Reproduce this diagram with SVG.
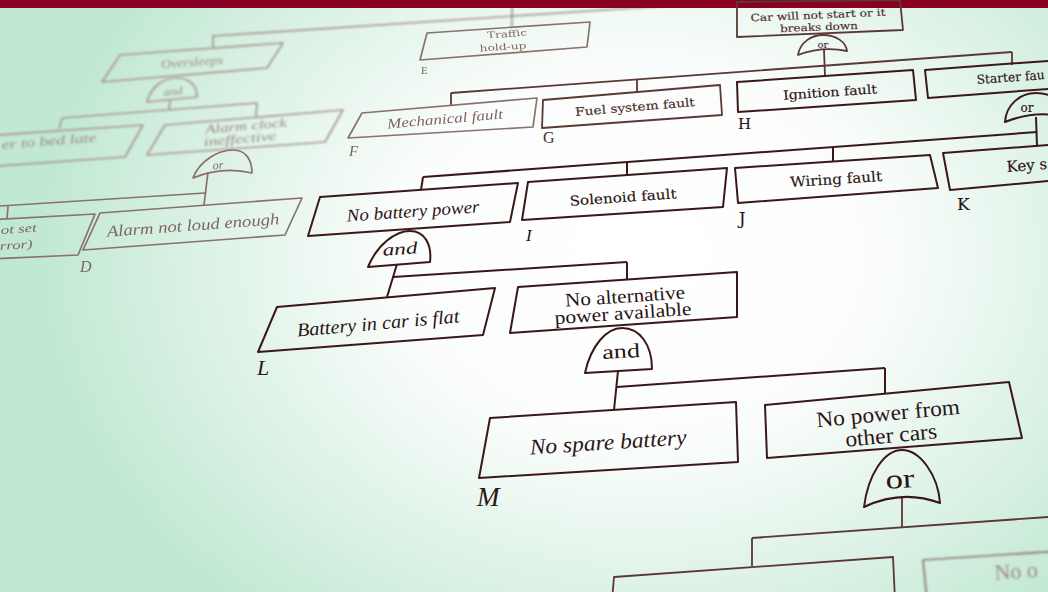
<svg xmlns="http://www.w3.org/2000/svg" width="1048" height="592" viewBox="0 0 1048 592">
<defs>
<radialGradient id="bg" gradientUnits="userSpaceOnUse" cx="640" cy="255" r="600" gradientTransform="translate(640 255) scale(1 0.78) translate(-640 -255)">
<stop offset="0" stop-color="#ffffff"/>
<stop offset="0.4" stop-color="#fbfdfc"/>
<stop offset="0.7" stop-color="#dff3e8"/>
<stop offset="1" stop-color="#c1e8d2"/>
</radialGradient>
<filter id="b1" x="-10%" y="-10%" width="120%" height="120%"><feGaussianBlur stdDeviation="0.6"/></filter>
<filter id="b2" x="-10%" y="-10%" width="120%" height="120%"><feGaussianBlur stdDeviation="1.1"/></filter>
</defs>
<style>
.bx{fill:none;stroke-linejoin:round}
.k{stroke:#3a1818;stroke-width:2}
.k2{stroke:#5c3833;stroke-width:1.8}
.k3{stroke:#8a716b;stroke-width:1.7}
.k4{stroke:#a8958f;stroke-width:1.7}
.ln{fill:none}
.tr{font-family:"Liberation Serif","Times New Roman",serif}
.ti{font-family:"Liberation Serif","Times New Roman",serif;font-style:italic}
.tb{font-family:"DejaVu Serif","Liberation Serif",serif;stroke-width:0.15}
.c{text-anchor:middle;dominant-baseline:central}
.d{fill:#2b1414;stroke:#2b1414}
.d2{fill:#4b2c28;stroke:#4b2c28}
.d3{fill:#7d6660}
.d4{fill:#9c8a83}
.tr.d,.ti.d,.tr.d2,.ti.d2{stroke:none}
</style>
<rect x="0" y="0" width="1048" height="592" fill="url(#bg)"/>

<g id="connectors">
<g filter="url(#b2)" class="ln k4">
<path d="M213,48 L213,36 L665,6"/>
<path d="M512,0 L512,27"/>
<path d="M170,100 L169,110"/>
<path d="M62,118 L257,103"/>
<path d="M62,118 L59,129"/>
<path d="M257,103 L256,117"/>
</g>
<g filter="url(#b1)" class="ln k3">
<path d="M0,206 L205,193"/>
<path d="M208,172 L204,205"/>
<path d="M8,206 L7,219"/>
</g>
<g class="ln k2">
<path d="M451,93 L1012,52"/>
<path d="M451,93 L451,106"/>
<path d="M637,79 L637,92"/>
<path d="M824,50 L825,76"/>
<path d="M1012,52 L1012,65"/>
</g>
<g class="ln k">
<path d="M423,177 L1037,132"/>
<path d="M423,177 L421,190"/>
<path d="M627,162 L627,175"/>
<path d="M833,147 L833,161"/>
<path d="M1036,117 L1037,146"/>
<path d="M397,264 L387,297"/>
<path d="M393,277 L627,262"/>
<path d="M627,262 L627,280"/>
<path d="M618,371 L614,410"/>
<path d="M617,387 L885,368"/>
<path d="M885,368 L885,394"/>
</g>
<g class="ln k2" filter="url(#b1)">
<path d="M902,498 L902,528"/>
<path d="M752,538 L1048,517"/>
<path d="M752,538 L752,566"/>
</g>
</g>

<g id="top-band"><rect x="0" y="0" width="1048" height="8" fill="#8a0022"/></g>

<g id="oversleeps" filter="url(#b2)">
<polygon class="bx k4" points="120,55 283,43 267,68 102,82"/>
<text class="ti c d4" x="192" y="62" font-size="12" textLength="62" lengthAdjust="spacingAndGlyphs" transform="rotate(-4.2 192 62)">Oversleeps</text>
</g>
<g id="gate-and-1" filter="url(#b2)">
<path class="bx k4" d="M147,102 C151,86 164,78 177,78 C190,78 197,86 197,97 Z"/>
<text class="ti c d4" x="173" y="91" font-size="11" textLength="19" lengthAdjust="spacingAndGlyphs" transform="rotate(-5 173 91)">and</text>
</g>
<g id="bed-late" filter="url(#b2)">
<polygon class="bx k4" points="-30,137 143,125 125,157 -30,168"/>
<text class="ti d4" x="2" y="149" font-size="13" textLength="95" lengthAdjust="spacingAndGlyphs" transform="rotate(-4.5 2 149)">er to bed late</text>
</g>
<g id="alarm-clock" filter="url(#b2)">
<polygon class="bx k4" points="165,125 343,110 325,142 147,155"/>
<text class="ti c d4" x="246" y="126" font-size="12.5" textLength="82" lengthAdjust="spacingAndGlyphs" transform="rotate(-4.8 246 126)">Alarm clock</text>
<text class="ti c d4" x="240" y="139" font-size="12.5" textLength="73" lengthAdjust="spacingAndGlyphs" transform="rotate(-4.8 240 139)">ineffective</text>
</g>
<g id="gate-or-1" filter="url(#b1)">
<path class="bx k3" d="M193,178 C199,162 217,150 233,150 C246,150 252,160 252,173 Q222,166 193,178 Z"/>
<text class="ti c d3" x="218" y="165" font-size="12" transform="rotate(-5 218 165)">or</text>
</g>
<g id="alarm-not-set" filter="url(#b1)">
<polygon class="bx k3" points="-30,221 95,214 78,255 -30,260"/>
<text class="ti d3" x="1" y="234" font-size="12" textLength="36" lengthAdjust="spacingAndGlyphs" transform="rotate(-4 1 234)">ot set</text>
<text class="ti d3" x="0" y="250" font-size="12" textLength="33" lengthAdjust="spacingAndGlyphs" transform="rotate(-4 0 250)">rror)</text>
<text class="ti d3" x="80" y="272" font-size="16">D</text>
</g>
<g id="alarm-loud" filter="url(#b1)">
<polygon class="bx k3" points="100,213 302,198 285,235 83,250"/>
<text class="ti c d3" x="193" y="225" font-size="16" textLength="173" lengthAdjust="spacingAndGlyphs" transform="rotate(-4.2 193 225)">Alarm not loud enough</text>
</g>
<g id="traffic" filter="url(#b1)">
<polygon class="bx k3" points="427,33 590,22 587,47 420,60"/>
<text class="tb c d3" x="507" y="34" font-size="9" textLength="40" lengthAdjust="spacingAndGlyphs" transform="rotate(-3.9 507 34)">Traffic</text>
<text class="tb c d3" x="503" y="47" font-size="9" textLength="47" lengthAdjust="spacingAndGlyphs" transform="rotate(-3.9 503 47)">hold-up</text>
<text class="tr d3" x="421" y="74" font-size="11">E</text>
</g>
<g id="car-wont-start">
<polygon class="bx k2" points="737,2 900,0 903,30 737,37"/>
<text class="tb c d2" x="818" y="15" font-size="10" textLength="135" lengthAdjust="spacingAndGlyphs" transform="rotate(-2.4 818 15)">Car will not start or it</text>
<text class="tb c d2" x="819" y="27" font-size="10" textLength="78" lengthAdjust="spacingAndGlyphs" transform="rotate(-2.4 819 27)">breaks down</text>
</g>
<g id="gate-or-top">
<path class="bx k2" d="M798,55 C800,42 812,35 823,35 C836,35 846,42 847,51 Q822,46 798,55 Z"/>
<text class="tb c d2" x="823" y="44" font-size="10">or</text>
</g>
<g id="mechanical" filter="url(#b1)">
<polygon class="bx k3" points="362,113 537,98 533,127 348,138"/>
<text class="ti c d3" x="445" y="119" font-size="14" textLength="116" lengthAdjust="spacingAndGlyphs" transform="rotate(-4.9 445 119)">Mechanical fault</text>
<text class="ti d3" x="349" y="156" font-size="15">F</text>
</g>
<g id="fuel">
<polygon class="bx k2" points="543,100 720,85 722,115 542,128"/>
<text class="tb c d2" x="635" y="107" font-size="11.5" textLength="120" lengthAdjust="spacingAndGlyphs" transform="rotate(-4.8 635 107)">Fuel system fault</text>
<text class="tr d2" x="543" y="143" font-size="16">G</text>
</g>
<g id="ignition">
<polygon class="bx k" points="737,82 913,70 916,100 738,112"/>
<text class="tb c d" x="830" y="92" font-size="12.5" textLength="94" lengthAdjust="spacingAndGlyphs" transform="rotate(-3.9 830 92)">Ignition fault</text>
<text class="tb d" x="738" y="129" font-size="15">H</text>
</g>
<g id="starter">
<polygon class="bx k" points="925,70 1060,60 1060,88 928,98"/>
<text class="tb d" x="977" y="84" font-size="12.5" textLength="68" lengthAdjust="spacingAndGlyphs" transform="rotate(-4.2 977 84)">Starter fau</text>
</g>
<g id="gate-or-starter">
<path class="bx k" d="M1005,122 C1006,105 1020,93 1036,93 C1052,93 1068,103 1070,118 Q1037,109 1005,122 Z"/>
<text class="tb c d" x="1027" y="108" font-size="12">or</text>
</g>
<g id="no-battery">
<polygon class="bx k" points="320,197 518,183 510,222 308,236"/>
<text class="ti c d" x="413" y="211" font-size="17.5" textLength="133" lengthAdjust="spacingAndGlyphs" transform="rotate(-4 413 211)">No battery power</text>
</g>
<g id="solenoid">
<polygon class="bx k" points="528,182 727,168 723,207 522,220"/>
<text class="tb c d" x="623" y="197" font-size="13.5" textLength="107" lengthAdjust="spacingAndGlyphs" transform="rotate(-4 623 197)">Solenoid fault</text>
<text class="ti d" x="526" y="241" font-size="17">I</text>
</g>
<g id="wiring">
<polygon class="bx k" points="735,168 930,155 938,188 738,203"/>
<text class="tb c d" x="836" y="179" font-size="14" textLength="92" lengthAdjust="spacingAndGlyphs" transform="rotate(-3.8 836 179)">Wiring fault</text>
<text class="tb d" x="739" y="224" font-size="16">J</text>
</g>
<g id="key">
<polygon class="bx k" points="943,153 1060,144 1060,180 950,190"/>
<text class="tb d" x="1007" y="172" font-size="15" transform="rotate(-4.5 1007 172)">Key s</text>
<text class="tb d" x="957" y="210" font-size="17">K</text>
</g>
<g id="gate-and-battery">
<path class="bx k" d="M368,267 C377,245 395,231 410,231 C425,231 432,245 430,262 Z"/>
<text class="ti c d" x="400" y="249" font-size="17" textLength="35" lengthAdjust="spacingAndGlyphs" transform="rotate(-4 400 249)">and</text>
</g>
<g id="battery-flat">
<polygon class="bx k" points="277,307 495,288 483,335 258,352"/>
<text class="ti c d" x="378" y="323" font-size="19" textLength="163" lengthAdjust="spacingAndGlyphs" transform="rotate(-5 378 323)">Battery in car is flat</text>
<text class="ti d" x="257" y="375" font-size="22">L</text>
</g>
<g id="no-alternative">
<polygon class="bx k" points="518,287 737,272 737,317 510,333"/>
<text class="tr c d" x="625" y="296" font-size="19" textLength="120" lengthAdjust="spacingAndGlyphs" transform="rotate(-3.9 625 296)">No alternative</text>
<text class="tr c d" x="623" y="313" font-size="19" textLength="137" lengthAdjust="spacingAndGlyphs" transform="rotate(-3.9 623 313)">power available</text>
</g>
<g id="gate-and-alt">
<path class="bx k" d="M585,373 C591,345 607,328 622,328 C640,328 652,345 652,369 Z"/>
<text class="tr c d" x="621" y="351" font-size="20" textLength="38" lengthAdjust="spacingAndGlyphs" transform="rotate(-3 621 351)">and</text>
</g>
<g id="no-spare">
<polygon class="bx k" points="490,418 736,402 738,462 479,478"/>
<text class="ti c d" x="608" y="442" font-size="22" textLength="157" lengthAdjust="spacingAndGlyphs" transform="rotate(-3.7 608 442)">No spare battery</text>
<text class="ti d" x="477" y="506" font-size="27">M</text>
</g>
<g id="no-power-cars">
<polygon class="bx k" points="765,405 1009,382 1022,438 767,458"/>
<text class="tr c d" x="888" y="413" font-size="22" textLength="144" lengthAdjust="spacingAndGlyphs" transform="rotate(-5.4 888 413)">No power from</text>
<text class="tr c d" x="891" y="435" font-size="22" textLength="92" lengthAdjust="spacingAndGlyphs" transform="rotate(-5.4 891 435)">other cars</text>
</g>
<g id="gate-or-cars">
<path class="bx k" d="M864,507 C868,475 884,450 902,450 C920,450 938,475 940,503 Q902,489 864,507 Z"/>
<text class="tr c d" x="900" y="479" font-size="27" textLength="29" lengthAdjust="spacingAndGlyphs" transform="rotate(-3 900 479)">or</text>
</g>
<g id="bottom-left-box" filter="url(#b1)">
<polygon class="bx k2" points="614,577 893,557 895,600 612,600"/>
</g>
<g id="bottom-right-box" filter="url(#b2)">
<polygon class="bx k3" points="923,560 1060,551 1060,600 927,600"/>
<text class="tr d4" x="995" y="580" font-size="22" transform="rotate(-4 995 580)">No o</text>
</g>
</svg>
